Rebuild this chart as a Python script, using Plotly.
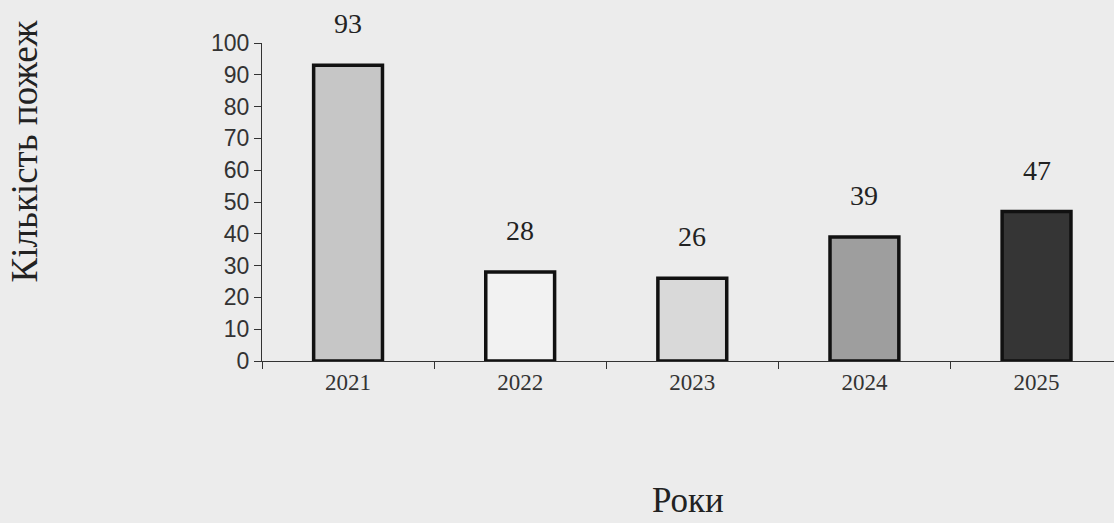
import plotly.graph_objects as go

years = ["2021", "2022", "2023", "2024", "2025"]
fires = [93, 28, 26, 39, 47]
bar_colors = ["#c6c6c6", "#f2f2f2", "#d9d9d9", "#9e9e9e", "#353535"]

bg = "#ececec"
serif = "Liberation Serif, Times New Roman, serif"
sans = "Liberation Sans, Arial, sans-serif"

fig = go.Figure()
fig.add_trace(go.Bar(
    x=years, y=fires, width=0.4,
    marker=dict(color=bar_colors, line=dict(color="#111111", width=3.5)),
    showlegend=False,
))

for i, v in enumerate(fires):
    fig.add_annotation(x=i, y=v, xref="x", yref="y", text=str(v), showarrow=False,
                       yanchor="bottom", yshift=24,
                       font=dict(family=serif, size=28, color="#222222"))

fig.add_annotation(x=0.5, xref="paper", y=-0.44, yref="paper", text="Роки",
                   showarrow=False, yanchor="middle",
                   font=dict(family=serif, size=35, color="#222222"))
fig.add_annotation(x=-0.279, xref="paper", y=0.66, yref="paper", text="Кількість пожеж",
                   showarrow=False, textangle=-90, xanchor="center", yanchor="middle",
                   font=dict(family=serif, size=37, color="#222222"))

fig.update_layout(
    width=1114, height=523,
    margin=dict(l=262, r=0, t=43, b=162),
    paper_bgcolor=bg, plot_bgcolor=bg,
    xaxis=dict(
        type="category", range=[-0.5, 4.45],
        showline=True, linecolor="#333333", linewidth=1.2,
        ticks="outside", tickson="boundaries", ticklen=7, tickcolor="#333333",
        tickfont=dict(family=serif, size=23, color="#333333"),
        showgrid=False, zeroline=False,
    ),
    yaxis=dict(
        range=[0, 100], dtick=10,
        showline=True, linecolor="#333333", linewidth=1.2,
        ticks="outside", ticklen=7, tickcolor="#333333",
        tickfont=dict(family=sans, size=23, color="#333333"),
        showgrid=False, zeroline=False,
    ),
)

fig.write_html("out.html", config={"displayModeBar": False},
               post_script="document.body.style.margin='0';document.body.style.background='#ececec';")
